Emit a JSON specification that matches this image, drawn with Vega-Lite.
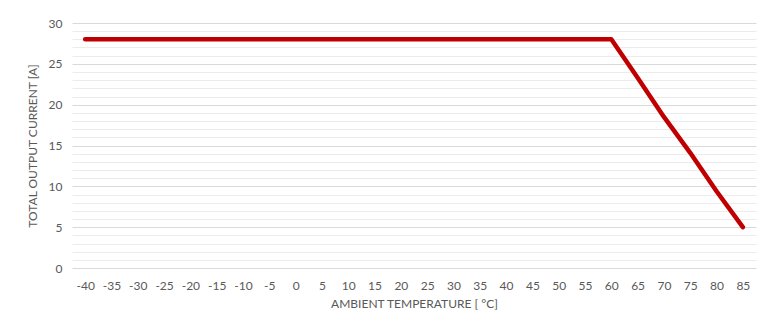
{
  "$schema": "https://vega.github.io/schema/vega-lite/v6.json",
  "width": 684,
  "height": 245,
  "autosize": {"type": "none"},
  "padding": {"left": 72, "top": 23, "right": 9, "bottom": 64},
  "background": "white",
  "config": {
    "view": {"stroke": null},
    "font": "Lato",
    "axis": {"labelFont": "Lato", "titleFont": "Lato", "labelColor": "#595959", "titleColor": "#595959", "labelFontSize": 12, "titleFontSize": 12, "titleFontWeight": "normal"}
  },
  "data": {
    "values": [
      {"t": -40, "a": 28}, {"t": -35, "a": 28}, {"t": -30, "a": 28}, {"t": -25, "a": 28},
      {"t": -20, "a": 28}, {"t": -15, "a": 28}, {"t": -10, "a": 28}, {"t": -5, "a": 28},
      {"t": 0, "a": 28}, {"t": 5, "a": 28}, {"t": 10, "a": 28}, {"t": 15, "a": 28},
      {"t": 20, "a": 28}, {"t": 25, "a": 28}, {"t": 30, "a": 28}, {"t": 35, "a": 28},
      {"t": 40, "a": 28}, {"t": 45, "a": 28}, {"t": 50, "a": 28}, {"t": 55, "a": 28},
      {"t": 60, "a": 28}, {"t": 65, "a": 23.3}, {"t": 70, "a": 18.5}, {"t": 75, "a": 14.1},
      {"t": 80, "a": 9.4}, {"t": 85, "a": 5}
    ]
  },
  "mark": {"type": "line", "color": "#c00000", "strokeWidth": 4.5, "strokeCap": "round", "strokeJoin": "round"},
  "encoding": {
    "x": {
      "field": "t", "type": "ordinal", "sort": null,
      "scale": {"type": "point", "padding": 0.5},
      "axis": {"title": "AMBIENT TEMPERATURE [ °C]", "labelAngle": 0, "ticks": false, "domain": false, "grid": false, "labelPadding": 12, "titlePadding": 7}
    },
    "y": {
      "field": "a", "type": "quantitative",
      "scale": {"domain": [0, 30], "nice": false},
      "axis": {
        "title": "TOTAL OUTPUT CURRENT [A]",
        "values": [0,1,2,3,4,5,6,7,8,9,10,11,12,13,14,15,16,17,18,19,20,21,22,23,24,25,26,27,28,29,30],
        "labelExpr": "datum.value % 5 === 0 ? datum.label : ''",
        "ticks": false, "domain": false, "labelPadding": 10, "titlePadding": 9,
        "grid": true,
        "gridColor": {"condition": {"test": "datum.value % 5 === 0", "value": "#d9d9d9"}, "value": "#ececec"},
        "gridWidth": 1.2
      }
    }
  }
}
